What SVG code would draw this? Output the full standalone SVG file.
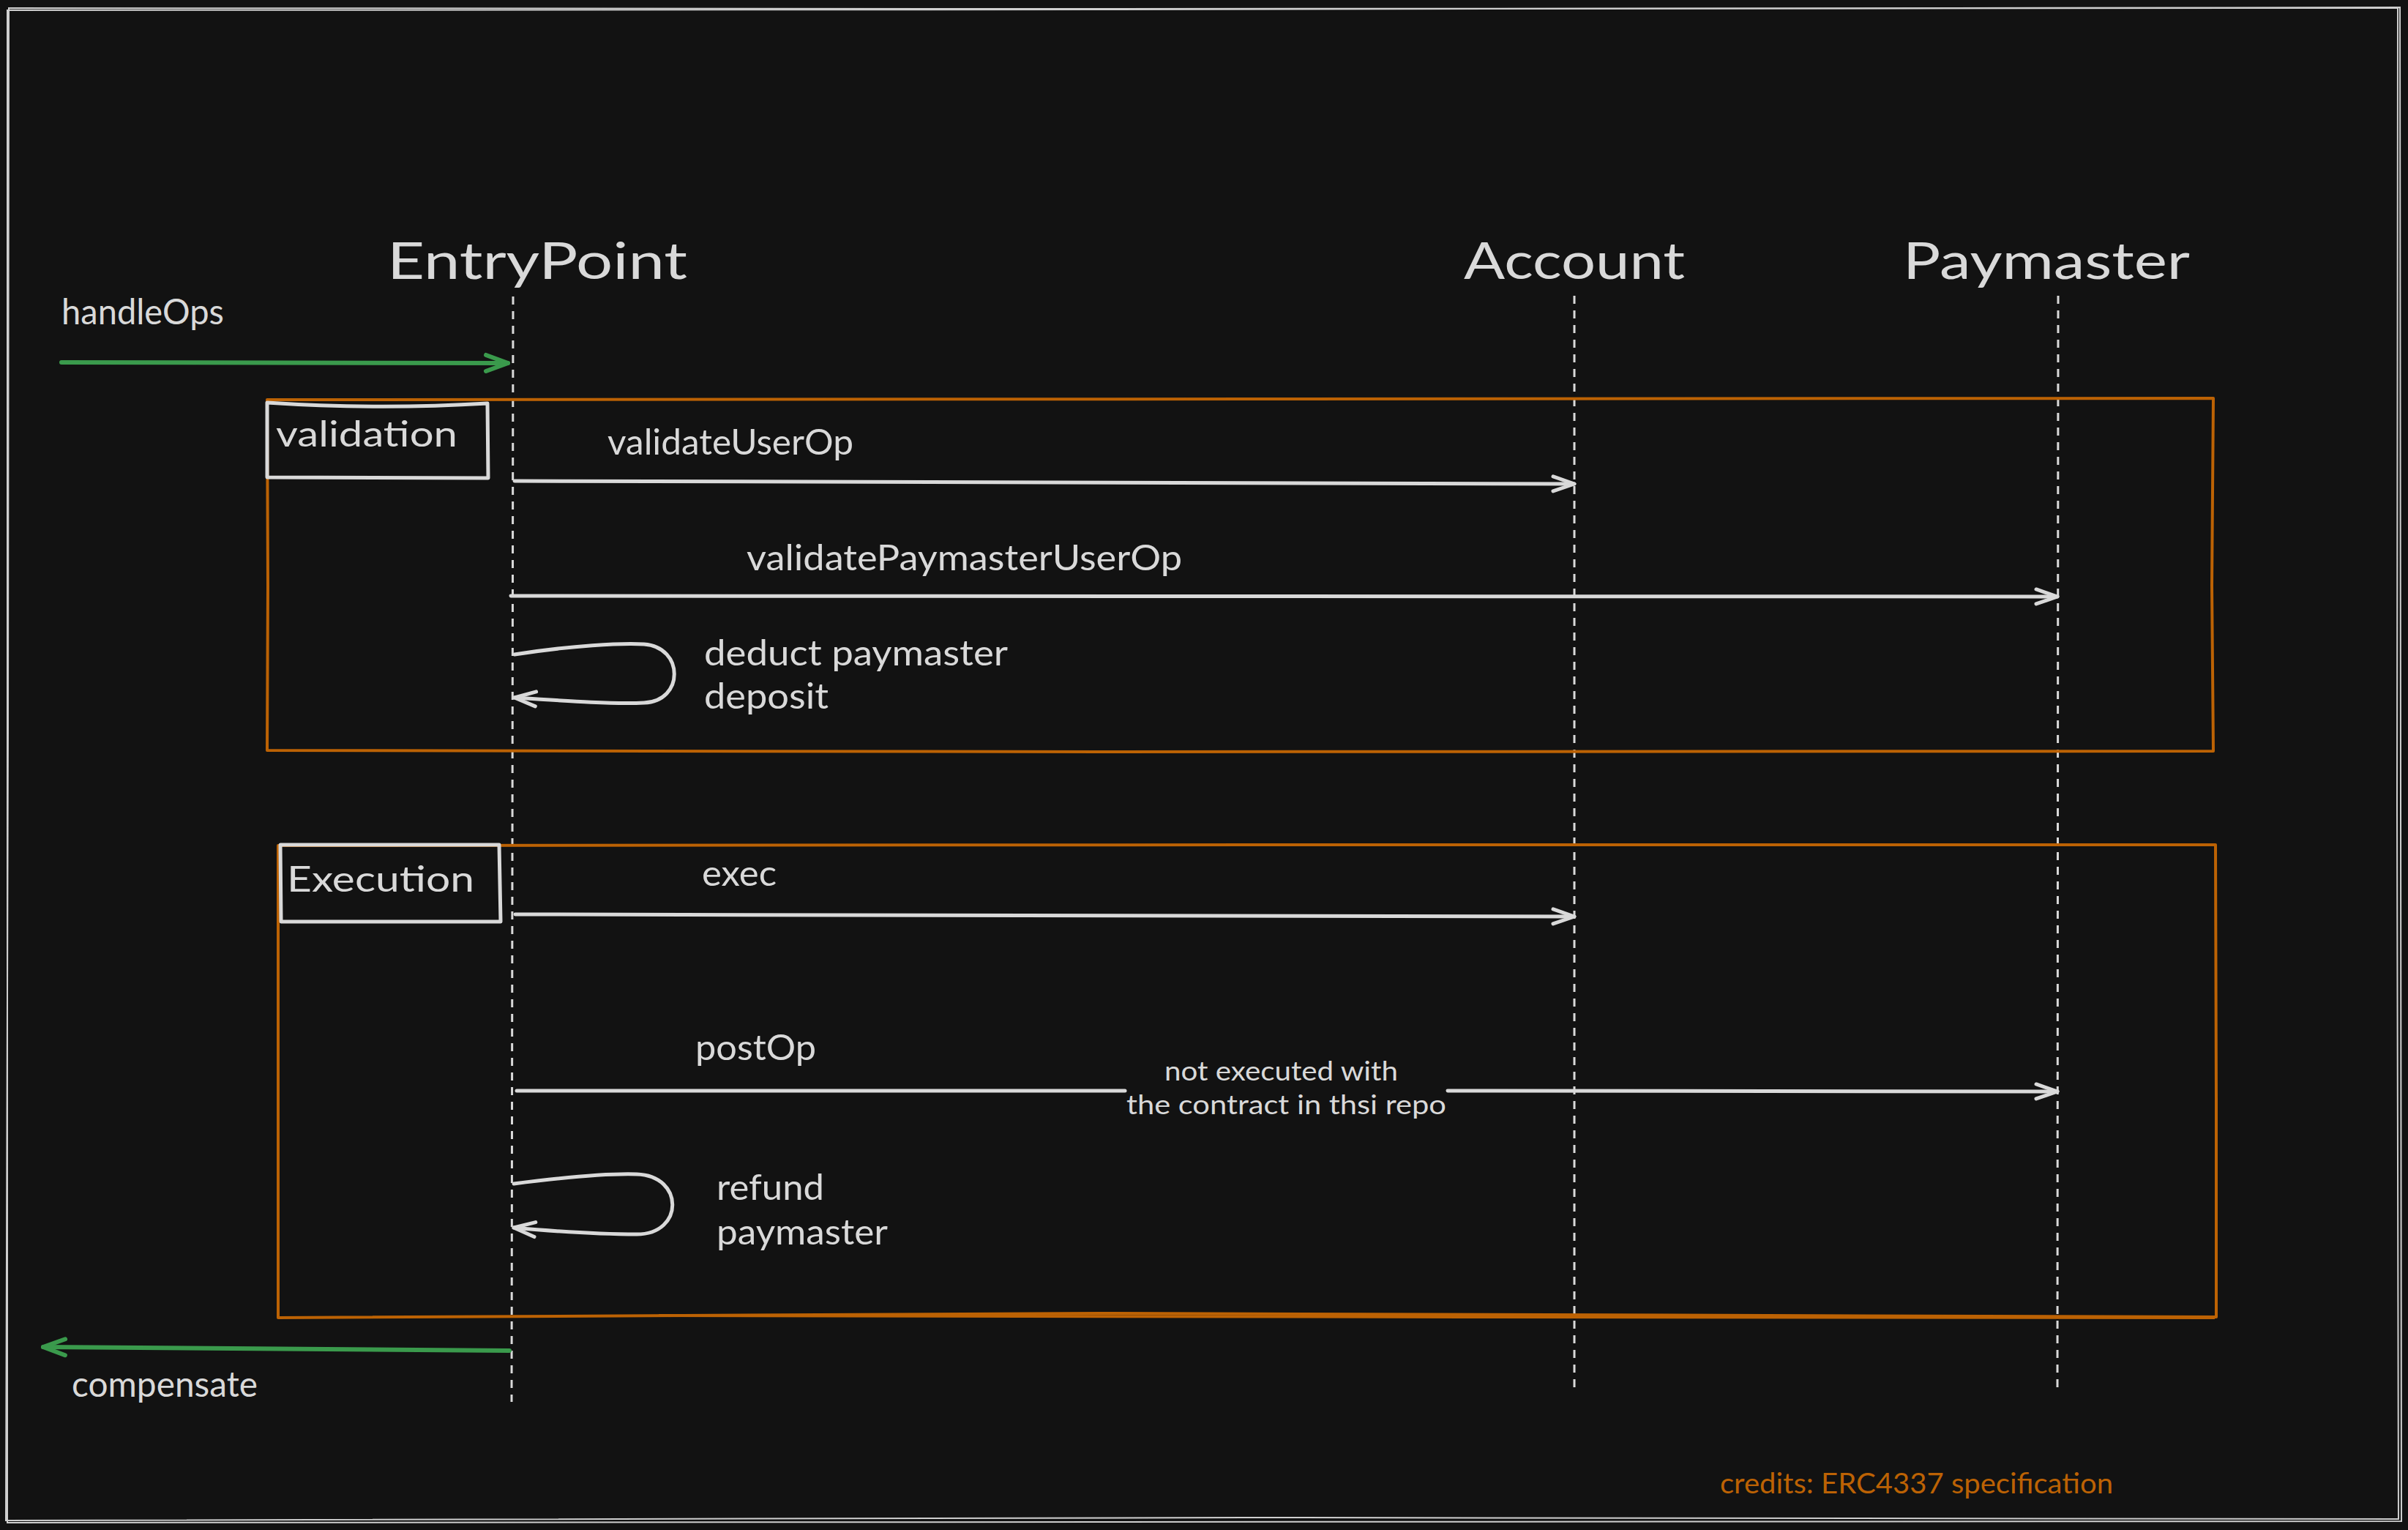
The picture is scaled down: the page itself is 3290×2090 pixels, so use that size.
<svg xmlns="http://www.w3.org/2000/svg" width="3290" height="2090" viewBox="0 0 3290 2090">
  <defs>
    <style>
      .txt { font-family: Lato, "Noto Sans", sans-serif; fill: #d9d9d9; }
      .title { font-size: 69px; }
      .lbl { font-size: 48px; }
      .small { font-size: 37px; }
      .credit { font-family: Lato, "Noto Sans", sans-serif; font-size: 38px; fill: #bc6204; }
      .life { fill: none; stroke: #d9d9d9; stroke-width: 3; stroke-dasharray: 11 9; }
      .msg { fill: none; stroke: #d9d9d9; stroke-width: 5; stroke-linecap: round; stroke-linejoin: round; }
      .green { fill: none; stroke: #3a9a4c; stroke-width: 6; stroke-linecap: round; stroke-linejoin: round; }
      .frame { fill: none; stroke: #bc6204; stroke-width: 4; stroke-linejoin: round; }
      .tag { fill: none; stroke: #d9d9d9; stroke-width: 5; stroke-linejoin: round; }
      .border { fill: none; stroke: #cfcfcf; stroke-width: 2; }
    </style>
    <marker id="ahW" markerUnits="userSpaceOnUse" viewBox="-36 -16 42 32" markerWidth="42" markerHeight="32" refX="0" refY="0" orient="auto">
      <path d="M-29,-10 L0,0 L-29,10" fill="none" stroke="#d9d9d9" stroke-width="5" stroke-linecap="round" stroke-linejoin="round"/>
    </marker>
    <marker id="ahG" markerUnits="userSpaceOnUse" viewBox="-38 -18 44 36" markerWidth="44" markerHeight="36" refX="0" refY="0" orient="auto">
      <path d="M-30,-11 L0,0 L-30,11" fill="none" stroke="#3a9a4c" stroke-width="6" stroke-linecap="round" stroke-linejoin="round"/>
    </marker>
  </defs>

  <rect x="0" y="0" width="3290" height="2090" fill="#121212"/>

  <g id="outer-frame">
    <path class="border" d="M10,14 L1500,13 L3279,10 L3280,1100 L3281,2078 L1500,2079 L10,2080 L10,1000 Z"/>
    <path class="border" d="M12,11 L1400,12 L3276,11 L3275,1100 L3277,2075 L1700,2073 L8,2077 L11,1000 Z" stroke-width="1.2"/>
  </g>

  <g id="entrypoint">
    <text class="txt title" x="529" y="381" textLength="410" lengthAdjust="spacingAndGlyphs">EntryPoint</text>
    <path class="life" d="M701,405 L699,1915"/>
  </g>
  <g id="account">
    <text class="txt title" x="2000" y="381" textLength="302" lengthAdjust="spacingAndGlyphs">Account</text>
    <path class="life" d="M2151,404 L2151,1895"/>
  </g>
  <g id="paymaster">
    <text class="txt title" x="2600" y="381" textLength="392" lengthAdjust="spacingAndGlyphs">Paymaster</text>
    <path class="life" d="M2812,404 L2811,1895"/>
  </g>

  <g id="validation-frame">
    <path class="frame" d="M365,546 L1700,545 L3024,544 L3022,800 L3024,1026 L1500,1027 L365,1025 L366,800 Z"/>
    <path class="tag" d="M365,550 Q515,560 666,551 L667,653 L365,652 Z"/>
    <text class="txt lbl" x="377" y="610" font-size="58" textLength="248" lengthAdjust="spacingAndGlyphs">validation</text>
  </g>

  <g id="execution-frame">
    <path class="frame" d="M380,1155 L1700,1154 L3027,1154 L3028,1500 L3028,1799 L1500,1794 L380,1800 L380,1500 Z"/>
    <path class="frame" d="M900,1797 L2000,1799 L3026,1800" stroke-width="2.5"/>
    <path class="tag" d="M383,1154 L682,1154 L684,1259 L384,1259 Z"/>
    <text class="txt lbl" x="392" y="1218" textLength="256" lengthAdjust="spacingAndGlyphs">Execution</text>
  </g>

  <g id="connectors">
    <path class="green" d="M84,495 L694,496" marker-end="url(#ahG)"/>
    <path class="msg" d="M703,657 L2151,661" marker-end="url(#ahW)"/>
    <path class="msg" d="M698,814 L2811,815" marker-end="url(#ahW)"/>
    <path class="msg" d="M703,894 C780,882 850,878 880,880 C935,884 935,958 880,960 C840,962 780,958 703,953" marker-end="url(#ahW)"/>
    <path class="msg" d="M704,1249 L2151,1252" marker-end="url(#ahW)"/>
    <path class="msg" d="M706,1490 L1537,1490"/>
    <path class="msg" d="M1978,1490 L2811,1491" marker-end="url(#ahW)"/>
    <path class="msg" d="M702,1617 C780,1607 840,1603 870,1604 C935,1606 935,1686 870,1686 C830,1686 780,1684 702,1677" marker-end="url(#ahW)"/>
    <path class="green" d="M696,1845 L59,1840" marker-end="url(#ahG)"/>
  </g>

  <g id="labels">
    <text class="txt lbl" x="84" y="443" textLength="222" lengthAdjust="spacingAndGlyphs">handleOps</text>
    <text class="txt lbl" x="830" y="621" font-size="53" textLength="336" lengthAdjust="spacingAndGlyphs">validateUserOp</text>
    <text class="txt lbl" x="1020" y="779" font-size="53" textLength="595" lengthAdjust="spacingAndGlyphs">validatePaymasterUserOp</text>
    <text class="txt lbl" x="962" y="909" textLength="415" lengthAdjust="spacingAndGlyphs">deduct paymaster</text>
    <text class="txt lbl" x="962" y="968" textLength="170" lengthAdjust="spacingAndGlyphs">deposit</text>
    <text class="txt lbl" x="959" y="1210" textLength="102" lengthAdjust="spacingAndGlyphs">exec</text>
    <text class="txt lbl" x="950" y="1448" textLength="165" lengthAdjust="spacingAndGlyphs">postOp</text>
    <text class="txt small" x="1591" y="1476" textLength="319" lengthAdjust="spacingAndGlyphs">not executed with</text>
    <text class="txt small" x="1539" y="1522" textLength="437" lengthAdjust="spacingAndGlyphs">the contract in thsi repo</text>
    <text class="txt lbl" x="979" y="1639" textLength="147" lengthAdjust="spacingAndGlyphs">refund</text>
    <text class="txt lbl" x="979" y="1700" textLength="234" lengthAdjust="spacingAndGlyphs">paymaster</text>
    <text class="txt lbl" x="98" y="1908" textLength="254" lengthAdjust="spacingAndGlyphs">compensate</text>
    <text class="credit" x="2350" y="2040" textLength="537" lengthAdjust="spacingAndGlyphs">credits: ERC4337 specification</text>
  </g>
</svg>
